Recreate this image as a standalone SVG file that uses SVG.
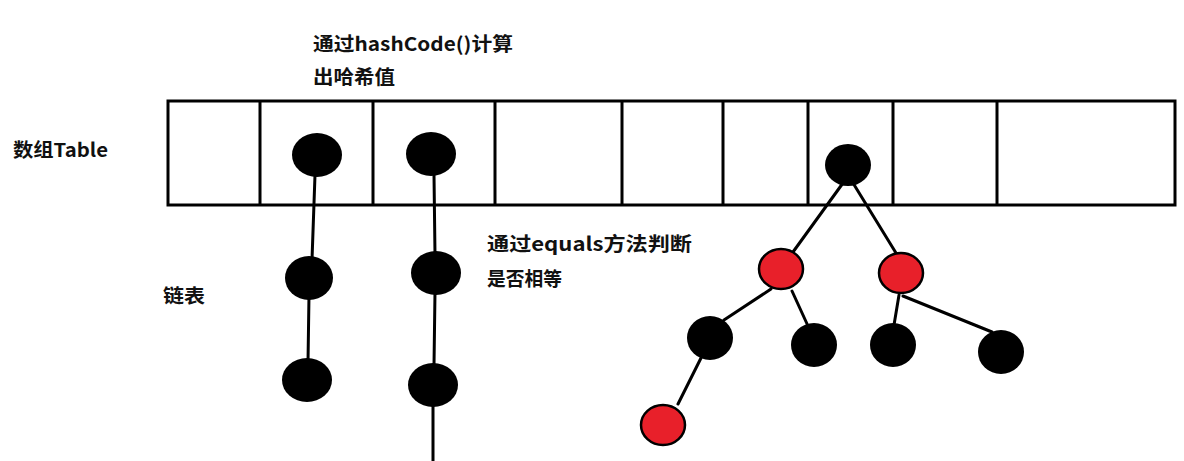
<svg xmlns="http://www.w3.org/2000/svg" width="1184" height="461" viewBox="0 0 1184 461">
<style>
.t{font-family:"Noto Sans CJK SC","Microsoft YaHei",sans-serif;font-weight:bold;font-size:19px;fill:#111}
.b{fill:#000}
.r{fill:#e8202a;stroke:#000;stroke-width:2.5}
.e{stroke:#000;stroke-width:3;fill:none;stroke-linecap:round}
.tb{fill:none;stroke:#000;stroke-width:3}
</style>
<rect width="1184" height="461" fill="#fff"/>
<g id="labels">
<text class="t" x="313" y="51" textLength="200" lengthAdjust="spacingAndGlyphs">通过hashCode()计算</text>
<text class="t" x="313" y="84" textLength="82" lengthAdjust="spacingAndGlyphs">出哈希值</text>
<text class="t" x="13" y="157" textLength="95" lengthAdjust="spacingAndGlyphs">数组Table</text>
<text class="t" x="163" y="303" textLength="42" lengthAdjust="spacingAndGlyphs">链表</text>
<text class="t" x="487" y="251" textLength="205" lengthAdjust="spacingAndGlyphs">通过equals方法判断</text>
<text class="t" x="487" y="286" textLength="75" lengthAdjust="spacingAndGlyphs">是否相等</text>
</g>
<g id="table">
<rect class="tb" x="168" y="101" width="1007" height="104"/>
<path class="tb" d="M260 101V205M373 101V205M495 101V205M622 101V205M723 101V205M808 101V205M893 101V205M997 101V205"/>
</g>
<g id="connectors">
<path class="e" d="M315 175L312 260M309 295L308 362M434 175L435 255M435 292L434 365M433 405V461"/>
<path class="e" d="M843 183L793 252M853 183L896 253M771 289L724 320M792 291L808 326M899 295L894 325M903 296L992 332M701 358L678 404"/>
</g>
<g id="node-a1"><ellipse class="b" cx="317" cy="155" rx="25" ry="22"/></g>
<g id="node-a2"><ellipse class="b" cx="309" cy="278" rx="24" ry="22"/></g>
<g id="node-a3"><ellipse class="b" cx="307" cy="380" rx="25" ry="22"/></g>
<g id="node-b1"><ellipse class="b" cx="431" cy="154" rx="25" ry="22"/></g>
<g id="node-b2"><ellipse class="b" cx="436" cy="273" rx="25" ry="22"/></g>
<g id="node-b3"><ellipse class="b" cx="433" cy="385" rx="25" ry="22"/></g>
<g id="node-root"><ellipse class="b" cx="848" cy="165" rx="23" ry="21"/></g>
<g id="node-red1"><ellipse class="r" cx="781" cy="269" rx="22" ry="20"/></g>
<g id="node-red2"><ellipse class="r" cx="901" cy="273" rx="22" ry="20"/></g>
<g id="node-c1"><ellipse class="b" cx="710" cy="338" rx="23" ry="22"/></g>
<g id="node-c2"><ellipse class="b" cx="814" cy="345" rx="23" ry="22"/></g>
<g id="node-c3"><ellipse class="b" cx="893" cy="345" rx="23" ry="22"/></g>
<g id="node-c4"><ellipse class="b" cx="1001" cy="352" rx="23" ry="22"/></g>
<g id="node-red3"><ellipse class="r" cx="663" cy="425" rx="22" ry="20"/></g>
</svg>
